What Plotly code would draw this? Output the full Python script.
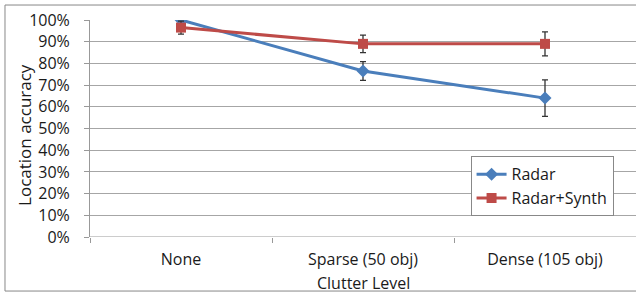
import plotly.graph_objects as go

categories = ["None", "Sparse (50 obj)", "Dense (105 obj)"]
radar = [100, 76.5, 64]
radar_err = [0, 4.3, 8.4]
synth = [96.5, 89, 89]
synth_err = [3, 4, 5.5]
ytick_vals = list(range(0, 101, 10))
ytick_text = [f"{v}%" for v in ytick_vals]

FONT = "'Open Sans', sans-serif"

fig = go.Figure()
fig.add_trace(go.Scatter(
    x=categories, y=radar, name="Radar", mode="lines+markers",
    line=dict(color="#4A7EBB", width=3),
    marker=dict(symbol="diamond", size=10, color="#4A7EBB"),
    error_y=dict(type="data", array=radar_err, color="#333333", thickness=1.3, width=3),
))
fig.add_trace(go.Scatter(
    x=categories, y=synth, name="Radar+Synth", mode="lines+markers",
    line=dict(color="#BE4B48", width=3),
    marker=dict(symbol="square", size=10, color="#BE4B48"),
    error_y=dict(type="data", array=synth_err, color="#333333", thickness=1.3, width=3),
))

fig.update_layout(
    width=636, height=293,
    margin=dict(l=90, r=0, t=20, b=56),
    paper_bgcolor="white", plot_bgcolor="white",
    font=dict(family=FONT, size=16, color="#1a1a1a"),
    showlegend=True,
    legend=dict(
        x=0.697, y=0.372, xanchor="left", yanchor="top",
        bordercolor="#888888", borderwidth=1, bgcolor="white",
        font=dict(family=FONT, size=16, color="#1a1a1a"),
        itemwidth=30, tracegroupgap=0,
    ),
    xaxis=dict(
        type="category", range=[-0.5, 2.5], tickson="boundaries",
        ticks="outside", ticklen=5, tickcolor="#999999",
        showline=False, showgrid=False, zeroline=False,
        ticklabelstandoff=11,
        tickfont=dict(size=16),
    ),
    yaxis=dict(
        range=[0, 100], tickvals=ytick_vals, ticktext=ytick_text,
        ticks="outside", ticklen=5, tickcolor="#999999",
        showline=True, linecolor="#999999", linewidth=1,
        showgrid=True, gridcolor="#A6A6A6", gridwidth=1, zeroline=False,
        ticklabelstandoff=11,
        tickfont=dict(size=16),
    ),
    annotations=[
        dict(text="Location accuracy", xref="paper", yref="paper",
             x=-0.121, y=0.47, xanchor="center", yanchor="middle",
             textangle=-90, showarrow=False, font=dict(size=17)),
        dict(text="Clutter Level", xref="paper", yref="paper",
             x=0.5, y=-0.212, xanchor="center", yanchor="middle",
             showarrow=False, font=dict(size=16)),
    ],
    shapes=[
        dict(type="rect", xref="paper", yref="paper",
             x0=-0.1557, x1=1.05, y0=-0.249, y1=1.069,
             line=dict(color="#888888", width=1), fillcolor="rgba(0,0,0,0)", layer="below"),
        dict(type="line", xref="paper", yref="y", x0=0, x1=1, y0=0, y1=0,
             line=dict(color="#999999", width=1)),
    ],
)

fig.write_html(
    "out.html",
    config={"displayModeBar": False},
    post_script="document.body.style.margin='0';document.body.style.overflow='hidden';",
)
